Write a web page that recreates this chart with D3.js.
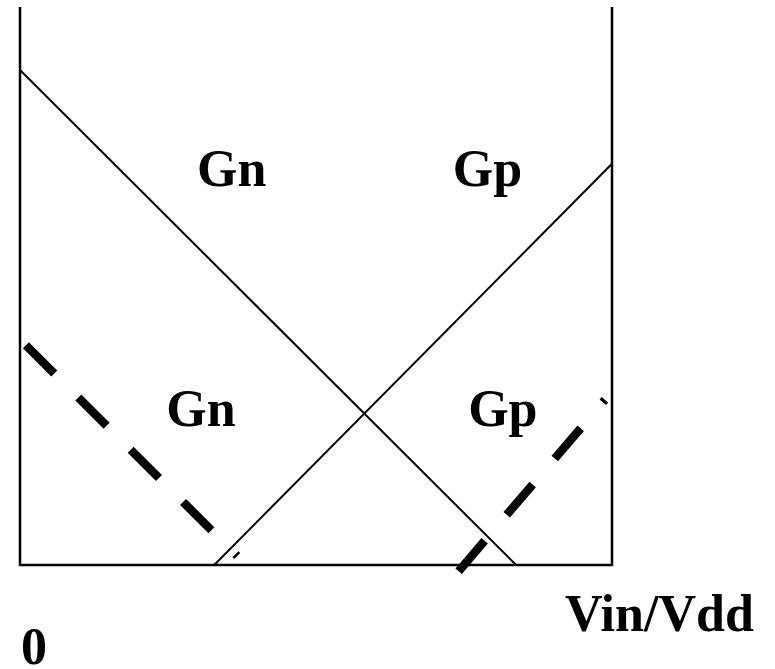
<!DOCTYPE html>
<html lang="en">

<head>
    <meta charset="UTF-8">
    <title>Gn Gp</title>
    <style>
        body { margin: 0; background: #fff; }
        text { font-family: "Liberation Serif", "Times New Roman", serif; font-weight: bold; font-size: 52px; }
    </style>
</head>

<body>
    <svg width="775" height="669"></svg>
    <script src="https://cdn.jsdelivr.net/npm/d3@7"></script>
    <script>
        // conductance curves, x = Vin/Vdd, y = relative conductance
        var gnSolid = [[0, 0.887], [0.838, 0]];
        var gpSolid = [[0.328, 0], [1, 0.719]];
        var gnDashed = [[0.010, 0.394], [0.367, 0.016]];
        var gpDashed = [[0.741, -0.011], [0.988, 0.296]];

        var labelText = ["Gn", "Gp", "Gn", "Gp"];
        var labelX = [0.299, 0.731, 0.247, 0.757];
        var labelY = [0.679, 0.679, 0.249, 0.249];

        var svg = d3.select("svg");

        var x = d3.scaleLinear().domain([0, 1]).range([20, 612]);
        var y = d3.scaleLinear().domain([0, 1]).range([565, 7]);

        var line = d3.line()
            .x(function (d) { return x(d[0]); })
            .y(function (d) { return y(d[1]); });

        // frame: left, right and bottom sides
        var frame = [[0, 1], [0, 0], [1, 0], [1, 1]];
        svg.append("path")
            .attr("d", line(frame))
            .attr("fill", "none")
            .attr("stroke", "#000")
            .attr("stroke-width", 2.5);

        svg.append("path")
            .attr("d", line(gnSolid))
            .attr("fill", "none")
            .attr("stroke", "#000")
            .attr("stroke-width", 2);

        svg.append("path")
            .attr("d", line(gpSolid))
            .attr("fill", "none")
            .attr("stroke", "#000")
            .attr("stroke-width", 2);

        [gnDashed, gpDashed].forEach(function (d) {
            svg.append("path")
                .attr("d", line(d))
                .attr("fill", "none")
                .attr("stroke", "#000")
                .attr("stroke-width", 8.5)
                .attr("stroke-dasharray", "40,34");
        });

        svg.selectAll(".lbl")
            .data(labelText)
            .enter()
            .append("text")
            .attr("class", "lbl")
            .attr("x", function (d, i) { return x(labelX[i]); })
            .attr("y", function (d, i) { return y(labelY[i]); })
            .text(function (d) { return d; });

        svg.append("text")
            .attr("x", 565)
            .attr("y", 631)
            .text("Vin/Vdd");

        svg.append("text")
            .attr("x", 21)
            .attr("y", 664)
            .text("0");
    </script>
</body>

</html>
